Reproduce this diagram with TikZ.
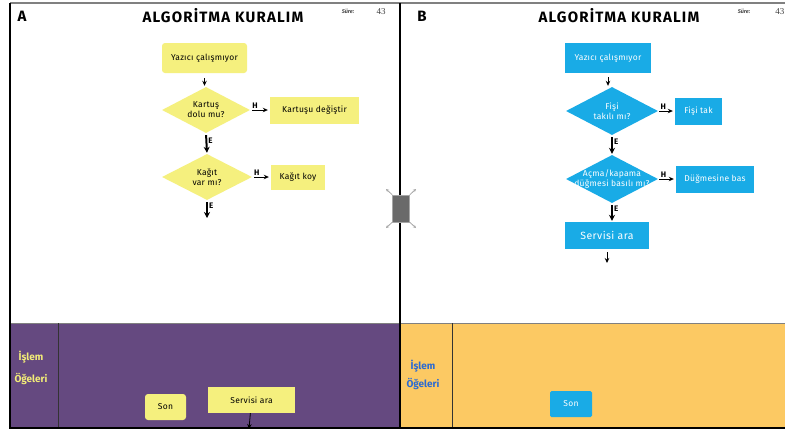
\documentclass[tikz,border=0pt]{standalone}
\usepackage{fontspec}
\setmainfont{Fira Sans}
\newfontfamily\numfont{Liberation Serif}
\usetikzlibrary{arrows.meta,shapes.geometric}
\definecolor{ybox}{HTML}{F5F07E}
\definecolor{bbox}{HTML}{19ABE6}
\definecolor{purp}{HTML}{654980}
\definecolor{orng}{HTML}{FCC963}
\definecolor{blutxt}{HTML}{2C6BD2}
\definecolor{yeltxt}{HTML}{F2EC78}
\definecolor{hgray}{HTML}{6A6A6A}
\begin{document}
\begin{tikzpicture}[x=1pt,y=-1pt,
  boxtxt/.style={font=\fontsize{8.5}{10}\selectfont\addfontfeature{LetterSpace=3}, inner sep=0pt, align=center},
  ybx/.style={boxtxt, fill=ybox, rounded corners=3pt},
  ysq/.style={boxtxt, fill=ybox},
  bbx/.style={boxtxt, fill=bbox, text=white},
  ydia/.style={diamond, fill=ybox, inner sep=0pt},
  bdia/.style={diamond, fill=bbox, inner sep=0pt},
  arr/.style={-{Stealth[length=5pt,width=4.5pt]}, line width=0.8pt},
  earr/.style={-{Stealth[length=6pt,width=6pt]}, line width=2pt},
  lbl/.style={font=\fontsize{8}{9}\selectfont\bfseries, inner sep=1pt},
  title/.style={font=\fontsize{15}{17}\selectfont\bfseries\addfontfeature{LetterSpace=8}},
  sure/.style={font=\fontsize{5.5}{6}\selectfont\bfseries\itshape, text=black!70},
  num/.style={font=\numfont\fontsize{9}{10}\selectfont, text=black!75},
  band/.style={font=\fontsize{10}{12}\selectfont\bfseries, align=center},
  handlearr/.style={-{Stealth[length=3pt,width=3pt]}, draw=gray!70, line width=0.8pt}
]
\useasboundingbox (0,0) rectangle (785,429);
\clip (0,0) rectangle (785,429);
\fill[white] (0,0) rectangle (785,429);

% bottom bands
\fill[purp] (10,323) rectangle (400,429);
\fill[orng] (400,323) rectangle (785,429);
\draw[gray, line width=0.6pt] (10,323) -- (785,323);
\draw[black!80, line width=0.8pt] (58,323) -- (58,429);
\draw[black!80, line width=0.8pt] (452,323) -- (452,429);

% frame
\draw[gray, line width=1.5pt] (10,3) -- (785,3);
\draw[black, line width=1.5pt] (10,3) -- (10,429);
\draw[black, line width=1.2pt] (10,428) -- (785,428);
\draw[black, line width=2pt] (400,3) -- (400,429);

% headers
\node[title] (la) at (22,16) {A};
\node[title] (lt) at (223,16) {ALGORİTMA KURALIM};
\node[sure] (ls) at (348,11) {Süre:};
\node[num] (ln) at (381,12) {43};
\node[title] (rb) at (422,16) {B};
\node[title] (rt) at (619,16) {ALGORİTMA KURALIM};
\node[sure] (rs) at (744,11) {Süre:};
\node[num, anchor=east, inner sep=0.5pt] (rn) at (785,12) {43};

% left flowchart
\node[ybx, minimum width=85pt, minimum height=30pt] (y1) at (204.5,58) {Yazıcı çalışmıyor};
\node[ydia, minimum width=88pt, minimum height=46pt, label={[boxtxt]center:Kartuş\\dolu mu?}] (d1) at (206,110) {};
\node[ysq, minimum width=89pt, minimum height=27pt] (k1) at (314.5,110) {Kartuşu değiştir};
\node[ydia, minimum width=90pt, minimum height=46pt, label={[boxtxt]center:Kağıt\\var mı?}] (d2) at (207,177) {};
\node[ysq, minimum width=54pt, minimum height=25pt] (k2) at (298,177) {Kağıt koy};
\coordinate (c1) at (207,218);

\draw[arr, shorten <=5pt, shorten >=1pt] (y1) -- (y1 |- d1.north);
\draw[arr, shorten <=2pt, shorten >=2pt] (d1.east) -- (k1.west) node[lbl, above, pos=0.25] {H};
\draw[earr, shorten <=2pt, shorten >=1pt] (d1.south) -- (d2.north) node[lbl, right, pos=0.35] {E};
\draw[arr, shorten <=2pt, shorten >=2pt] (d2.east) -- (k2.west) node[lbl, above, pos=0.25] {H};
\draw[earr, shorten <=2pt] (d2.south) -- (c1) node[lbl, right, pos=0.3] {E};

% right flowchart
\node[bbx, minimum width=86pt, minimum height=30pt] (y1b) at (608,58) {Yazıcı çalışmıyor};
\node[bdia, minimum width=92pt, minimum height=48pt, label={[boxtxt, text=white]center:Fişi\\takılı mı?}] (d1b) at (612,111) {};
\node[bbx, minimum width=47pt, minimum height=27pt] (k1b) at (698.5,111) {Fişi tak};
\node[bdia, minimum width=92pt, minimum height=48pt, label={[boxtxt, text=white]center:Açma/kapama\\düğmesi basılı mı?}] (d2b) at (612,179) {};
\node[bbx, minimum width=78pt, minimum height=27pt] (k2b) at (715,179) {Düğmesine bas};
\node[bbx, minimum width=84pt, minimum height=27pt, font=\fontsize{10.5}{12}\selectfont\addfontfeature{LetterSpace=4}] (s1b) at (607,235.5) {Servisi ara};
\coordinate (c2) at (607,263);

\draw[arr, shorten <=4pt, shorten >=1pt] (y1b) -- (y1b |- d1b.north);
\draw[arr, shorten <=1pt, shorten >=2pt] (d1b.east) -- (k1b.west) node[lbl, above, pos=0.3] {H};
\draw[earr, shorten <=2pt, shorten >=1pt] (d1b.south) -- (d2b.north) node[lbl, right, pos=0.35] {E};
\draw[arr, shorten <=1pt, shorten >=2pt] (d2b.east) -- (k2b.west) node[lbl, above, pos=0.3] {H};
\draw[earr, shorten <=2pt, shorten >=1pt] (d2b.south) -- (d2b.south |- s1b.north) node[lbl, right, pos=0.3] {E};
\draw[arr, shorten <=3pt] (s1b) -- (c2);

% bottom band contents
\node[band, text=yeltxt] (il) at (31,357) {İşlem};
\node[band, text=yeltxt] (ol) at (31,379) {Öğeleri};
\node[ybx, minimum width=41pt, minimum height=26pt] (sonl) at (165.5,407) {Son};
\node[ysq, minimum width=87pt, minimum height=26pt] (sal) at (251.5,400) {Servisi ara};
\coordinate (c3) at (249,429);
\draw[arr] (sal) -- (c3);

\node[band, text=blutxt] (ir) at (423,366) {İşlem};
\node[band, text=blutxt] (or) at (423,384) {Öğeleri};
\node[bbx, rounded corners=1.5pt, minimum width=42pt, minimum height=26pt] (sonr) at (571,404) {Son};

% resize handle
\node[fill=hgray, draw=gray!70, line width=0.6pt, minimum width=17pt, minimum height=27pt, inner sep=0pt] (hd) at (401,208.5) {};
\coordinate (h1) at (386,189);
\coordinate (h2) at (416,189);
\coordinate (h3) at (386,228);
\coordinate (h4) at (416,228);
\draw[handlearr] (hd.north west) -- (h1);
\draw[handlearr] (hd.north east) -- (h2);
\draw[handlearr] (hd.south west) -- (h3);
\draw[handlearr] (hd.south east) -- (h4);
\end{tikzpicture}
\end{document}
